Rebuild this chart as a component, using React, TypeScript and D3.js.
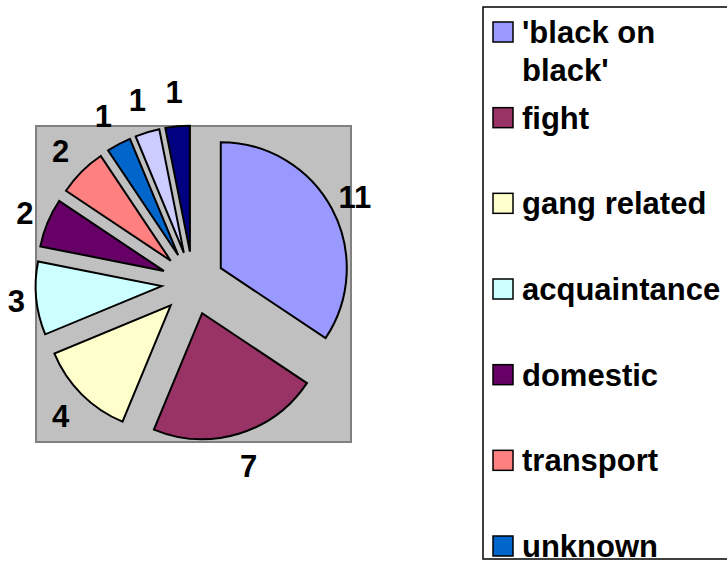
import React from 'react';
import * as d3 from 'd3';

// slice data, clockwise from 12 o'clock
const categories = [
  "'black on black'",
  'fight',
  'gang related',
  'acquaintance',
  'domestic',
  'transport',
  'unknown',
  'other',
  'not recorded',
];
const values = [11, 7, 4, 3, 2, 2, 1, 1, 1];
const colors = [
  '#9999FF',
  '#993366',
  '#FFFFCC',
  '#CCFFFF',
  '#660066',
  '#FF8080',
  '#0066CC',
  '#CCCCFF',
  '#000080',
];
// legend text as it wraps in the box (the last entries are cut off by the box)
const legendLines = [
  ["'black on", "black'"],
  ['fight'],
  ['gang related'],
  ['acquaintance'],
  ['domestic'],
  ['transport'],
  ['unknown'],
];

const W = 727;
const H = 561;
const FONT = '"Liberation Sans", Arial, sans-serif';

export default function App() {
  const plot = { x0: 36, y0: 126, x1: 351, y1: 442 };
  const cx = 193;
  const cy = 283;
  const radius = 126;
  const explode = radius * 0.25;

  const data = categories.map((c, i) => ({ name: c, value: values[i], color: colors[i] }));

  const pie = d3
    .pie<any>()
    .value((d) => d.value)
    .sort(null)
    .startAngle(0)
    .endAngle(2 * Math.PI);
  const arcs = pie(data);

  const arc = d3.arc<any>().innerRadius(0).outerRadius(radius);

  const legendY = d3.scaleLinear().domain([0, 6]).range([32, 546]);

  return (
    <svg
      width={W}
      height={H}
      style={{ position: 'absolute', left: 0, top: 0, background: '#fff' }}
      fontFamily={FONT}
      fontWeight='bold'
    >
      <rect
        x={plot.x0}
        y={plot.y0}
        width={plot.x1 - plot.x0}
        height={plot.y1 - plot.y0}
        fill='#C0C0C0'
        stroke='#808080'
        strokeWidth={2}
      />
      <g transform={`translate(${cx},${cy})`}>
        {arcs.map((a, i) => {
          const mid = (a.startAngle + a.endAngle) / 2;
          const dx = Math.sin(mid) * explode;
          const dy = -Math.cos(mid) * explode;
          return (
            <path
              key={i}
              d={arc(a) || ''}
              transform={`translate(${dx},${dy})`}
              fill={a.data.color}
              stroke='#000'
              strokeWidth={2}
              strokeLinejoin='miter'
            />
          );
        })}
        {arcs.map((a, i) => {
          const mid = (a.startAngle + a.endAngle) / 2;
          const dist = 176 + 16 * Math.abs(Math.cos(mid));
          return (
            <text
              key={i}
              x={Math.sin(mid) * dist}
              y={-Math.cos(mid) * dist}
              dy='0.36em'
              textAnchor='middle'
              fontSize={31}
              fill='#000'
            >
              {a.data.value}
            </text>
          );
        })}
      </g>
      <rect x={483} y={7} width={300} height={552} fill='#fff' stroke='#000' strokeWidth={1.5} />
      <g>
        {legendLines.map((lines, i) => {
          const y = legendY(i);
          return (
            <g key={i}>
              <rect x={493} y={y - 10} width={20} height={20} fill={colors[i]} stroke='#000' strokeWidth={1.5} />
              {lines.map((t, j) => (
                <text key={j} x={522} y={y + 11 + j * 38} fontSize={31} fill='#000'>
                  {t}
                </text>
              ))}
            </g>
          );
        })}
      </g>
    </svg>
  );
}
